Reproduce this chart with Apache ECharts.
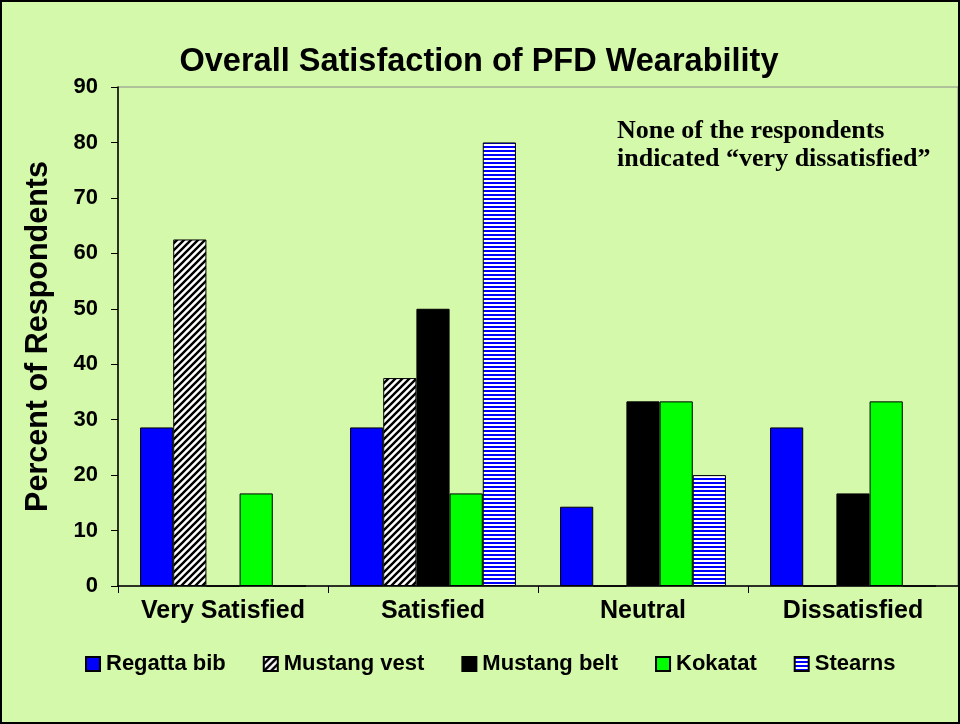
<!DOCTYPE html>
<html>
<head>
<meta charset="utf-8">
<script src="https://cdn.jsdelivr.net/npm/echarts@6/dist/echarts.min.js"></script>
<style>
  html, body { margin: 0; padding: 0; }
  #chart { width: 960px; height: 724px; box-sizing: border-box; border: 2px solid #000; background: #d4f9aa; }
</style>
</head>
<body>
<div id="chart"></div>
<script>
// categories and values (percent of respondents)
const categories = ["Very Satisfied", "Satisfied", "Neutral", "Dissatisfied"];
const regattaBib = [28.6, 28.6, 14.3, 28.6];
const mustangVest = [62.5, 37.5, 0, 0];
const mustangBelt = [0, 50, 33.3, 16.7];
const kokatat = [16.7, 16.7, 33.3, 33.3];
const stearns = [0, 80, 20, 0];

// hatch fills
function diagHatch() {
  const c = document.createElement("canvas");
  c.width = 7; c.height = 7;
  const g = c.getContext("2d");
  g.fillStyle = "#fff";
  g.fillRect(0, 0, 7, 7);
  g.strokeStyle = "#000";
  g.lineWidth = 2.4;
  g.beginPath();
  g.moveTo(-1, 8); g.lineTo(8, -1);
  g.moveTo(-4, 4); g.lineTo(4, -4);
  g.moveTo(3, 11); g.lineTo(11, 3);
  g.stroke();
  return c;
}
function stripes() {
  const c = document.createElement("canvas");
  c.width = 4; c.height = 4;
  const g = c.getContext("2d");
  g.fillStyle = "#fff";
  g.fillRect(0, 0, 4, 4);
  g.fillStyle = "#0000ff";
  g.fillRect(0, 0, 4, 2);
  return c;
}

const font = "Arial, 'Liberation Sans', sans-serif";
const border = { borderColor: "#000", borderWidth: 1 };

function bar(name, data, color) {
  return {
    name: name,
    type: "bar",
    data: data,
    barGap: "0%",
    barCategoryGap: "21%",
    itemStyle: Object.assign({ color: color }, border)
  };
}

let echart = echarts.init(document.getElementById("chart"));
echart.setOption({
  animation: false,
  title: {
    text: "Overall Satisfaction of PFD Wearability",
    left: 472, top: 39, textAlign: "center",
    textStyle: { fontFamily: font, fontSize: 32.5, fontWeight: "bold", color: "#000" }
  },
  grid: {
    left: 116, top: 85, right: 0, bottom: 136,
    show: true, borderColor: "#8a8a8a", borderWidth: 1
  },
  legend: {
    left: 78, top: 646,
    itemWidth: 14, itemHeight: 14, itemGap: 37,
    icon: "rect",
    textStyle: { fontFamily: font, fontSize: 22, fontWeight: "bold", color: "#000", padding: [0, 0, 0, 1] },
    data: ["Regatta bib", "Mustang vest", "Mustang belt", "Kokatat", "Stearns"]
  },
  xAxis: {
    type: "category",
    data: categories,
    axisLine: { lineStyle: { color: "#000", width: 1.5 } },
    axisTick: { show: true, length: 7, lineStyle: { color: "#000" } },
    axisLabel: { interval: 0, fontFamily: font, fontSize: 25, fontWeight: "bold", color: "#000", margin: 13 }
  },
  yAxis: {
    type: "value",
    min: 0, max: 90, interval: 10,
    name: "Percent of Respondents",
    nameLocation: "middle",
    nameGap: 64,
    nameTextStyle: { fontFamily: font, fontSize: 30.5, fontWeight: "bold", color: "#000" },
    axisLine: { show: true, lineStyle: { color: "#000", width: 1.5 } },
    axisTick: { show: true, length: 7, lineStyle: { color: "#000" } },
    axisLabel: { fontFamily: font, fontSize: 22, fontWeight: "bold", color: "#000", margin: 20 },
    splitLine: { show: false }
  },
  graphic: [{
    type: "text",
    left: 615, top: 115,
    style: {
      text: "None of the respondents\nindicated \u201cvery dissatisfied\u201d",
      font: "bold 26px 'Liberation Serif', 'Times New Roman', serif",
      fill: "#000",
      lineHeight: 28
    }
  }],
  series: [
    bar("Regatta bib", regattaBib, "#0000ff"),
    bar("Mustang vest", mustangVest, { image: diagHatch(), repeat: "repeat" }),
    bar("Mustang belt", mustangBelt, "#000000"),
    bar("Kokatat", kokatat, "#00ff00"),
    bar("Stearns", stearns, { image: stripes(), repeat: "repeat" })
  ]
});
</script>
</body>
</html>
